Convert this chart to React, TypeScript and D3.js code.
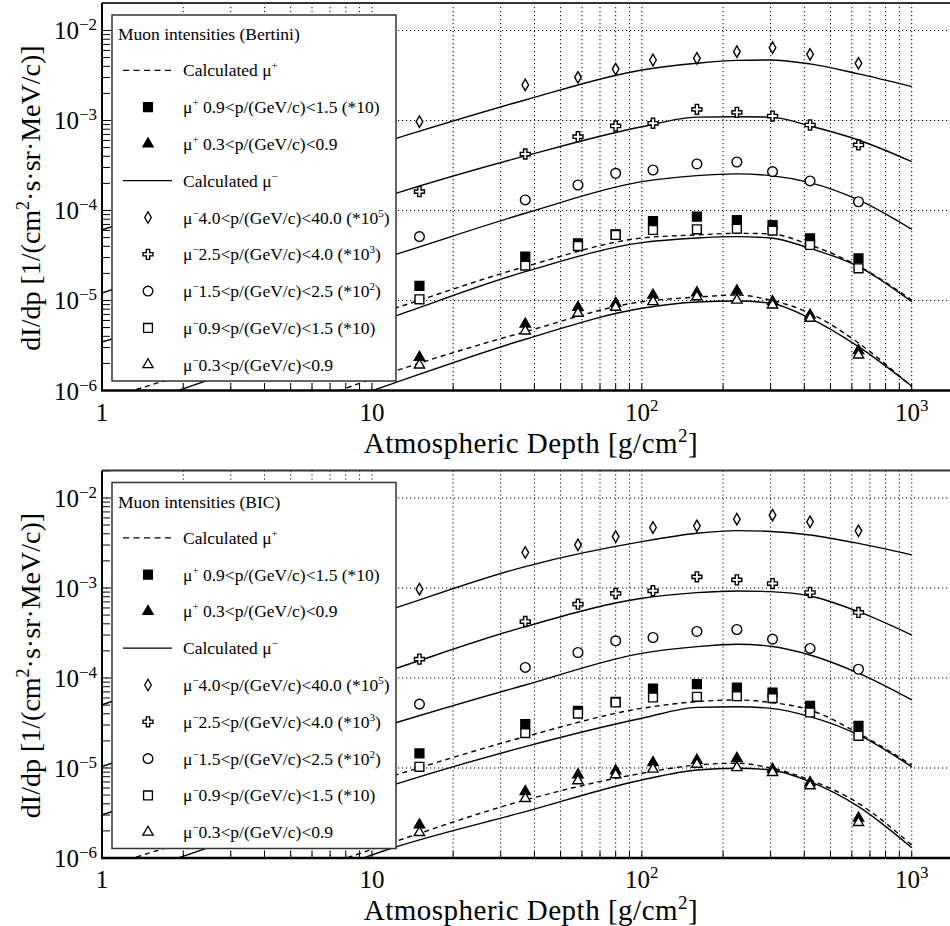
import React from 'react';
import * as d3 from 'd3';

// ---------- measured data (same in both panels) ----------
const DEPTHS = [15, 37, 58, 80, 110, 160, 225, 305, 420, 635];
const MUM_4_40 = [9.7e-4, 2.48e-3, 3.02e-3, 3.73e-3, 4.7e-3, 4.91e-3, 5.81e-3, 6.44e-3, 5.44e-3, 4.32e-3];
const MUM_25_40 = [1.62e-4, 4.24e-4, 6.61e-4, 8.69e-4, 9.31e-4, 1.33e-3, 1.23e-3, 1.12e-3, 8.91e-4, 5.35e-4];
const MUM_15_25 = [5.12e-5, 1.31e-4, 1.92e-4, 2.59e-4, 2.82e-4, 3.29e-4, 3.46e-4, 2.7e-4, 2.13e-4, 1.25e-4];
const MUP_09_15 = [1.45e-5, 3.07e-5, 4.32e-5, 5.44e-5, 7.64e-5, 8.53e-5, 7.84e-5, 6.9e-5, 4.91e-5, 2.94e-5];
const MUM_09_15 = [1.03e-5, 2.44e-5, 4.03e-5, 5.35e-5, 6.07e-5, 6.18e-5, 6.28e-5, 5.97e-5, 4.14e-5, 2.28e-5];
const MUP_03_09 = [2.34e-6, 5.48e-6, 8.4e-6, 9.31e-6, 1.15e-5, 1.22e-5, 1.28e-5, 9.7e-6, 6.9e-6, 2.77e-6];
const MUM_03_09 = [1.92e-6, 4.58e-6, 7.21e-6, 8.4e-6, 9.7e-6, 1.1e-5, 1.01e-5, 8.91e-6, 6.34e-6, 2.48e-6];

// ---------- calculated curves ----------
const CALC_DEPTHS = [1, 3, 12, 37, 100, 160, 225, 300, 420, 635, 1000];
// Bertini
const B_MUM_4_40 = [6.1e-5, 1.7e-4, 6.2e-4, 1.69e-3, 3.64e-3, 4.32e-3, 4.65e-3, 4.7e-3, 4.25e-3, 3.29e-3, 2.38e-3];
const B_MUM_25_40 = [1.21e-5, 3.7e-5, 1.52e-4, 4.04e-4, 8.53e-4, 1.09e-3, 1.1e-3, 1.09e-3, 8.69e-4, 6.07e-4, 3.49e-4];
const B_MUM_15_25 = [3.46e-6, 9.25e-6, 3.19e-5, 9.31e-5, 2.09e-4, 2.44e-4, 2.55e-4, 2.44e-4, 2.04e-4, 1.31e-4, 6.18e-5];
const B_MUM_09_15 = [5.1e-7, 1.59e-6, 6.6e-6, 2.09e-5, 4.39e-5, 4.95e-5, 5.12e-5, 4.95e-5, 3.8e-5, 2.38e-5, 9.7e-6];
const B_MUP_09_15 = [7.8e-7, 2.18e-6, 8.1e-6, 2.38e-5, 4.95e-5, 5.35e-5, 5.58e-5, 5.5e-5, 4.14e-5, 2.42e-5, 1.01e-5];
const B_MUM_03_09 = [8e-8, 2.7e-7, 1.2e-6, 3.71e-6, 8.19e-6, 9.62e-6, 9.87e-6, 9.31e-6, 6.34e-6, 3.07e-6, 1.12e-6];
const B_MUP_03_09 = [1.05e-7, 3.5e-7, 1.62e-6, 4.5e-6, 9.7e-6, 1.09e-5, 1.15e-5, 1.01e-5, 7.21e-6, 3.37e-6, 1.1e-6];
// BIC
const C_MUM_4_40 = [5.04e-5, 1.5e-4, 5.9e-4, 1.73e-3, 3.27e-3, 4.05e-3, 4.34e-3, 4.25e-3, 3.88e-3, 3.13e-3, 2.33e-3];
const C_MUM_25_40 = [1.04e-5, 3.12e-5, 1.25e-4, 3.72e-4, 7.68e-4, 8.87e-4, 9.27e-4, 9.1e-4, 8.15e-4, 5.45e-4, 3.0e-4];
const C_MUM_15_25 = [3.02e-6, 8.5e-6, 3.12e-5, 8.36e-5, 1.88e-4, 2.23e-4, 2.37e-4, 2.25e-4, 1.8e-4, 1.13e-4, 5.7e-5];
const C_MUM_09_15 = [5.1e-7, 1.59e-6, 6.5e-6, 1.73e-5, 3.57e-5, 4.72e-5, 4.8e-5, 4.6e-5, 3.72e-5, 2.33e-5, 1.03e-5];
const C_MUP_09_15 = [7.8e-7, 2.18e-6, 8.2e-6, 2.23e-5, 4.6e-5, 5.46e-5, 5.7e-5, 5.35e-5, 4.41e-5, 2.43e-5, 1.08e-5];
const C_MUM_03_09 = [8e-8, 2.7e-7, 1.3e-6, 3.27e-6, 7.36e-6, 9.5e-6, 9.93e-6, 9.5e-6, 7.05e-6, 3.72e-6, 1.3e-6];
const C_MUP_03_09 = [1.05e-7, 3.5e-7, 1.5e-6, 4.41e-6, 8.73e-6, 1.08e-5, 1.13e-5, 1.0e-5, 7.36e-6, 4.05e-6, 1.39e-6];

// ---------- ticks / labels ----------
const Y_DECADES = [-6, -5, -4, -3, -2];
const X_LABELS = [
  { v: 1, base: '1', exp: '' },
  { v: 10, base: '10', exp: '' },
  { v: 100, base: '10', exp: '2' },
  { v: 1000, base: '10', exp: '3' },
];
const PANEL_TITLES = ['Muon intensities (Bertini)', 'Muon intensities (BIC)'];

type Seg = { t: string; sup?: boolean };
const LEGEND_LABELS: Seg[][] = [
  [{ t: 'Calculated μ' }, { t: '+', sup: true }],
  [{ t: 'μ' }, { t: '+', sup: true }, { t: ' 0.9<p/(GeV/c)<1.5 (*10)' }],
  [{ t: 'μ' }, { t: '+', sup: true }, { t: ' 0.3<p/(GeV/c)<0.9' }],
  [{ t: 'Calculated μ' }, { t: '−', sup: true }],
  [{ t: 'μ' }, { t: '−', sup: true }, { t: '4.0<p/(GeV/c)<40.0 (*10' }, { t: '5', sup: true }, { t: ')' }],
  [{ t: 'μ' }, { t: '−', sup: true }, { t: '2.5<p/(GeV/c)<4.0 (*10' }, { t: '3', sup: true }, { t: ')' }],
  [{ t: 'μ' }, { t: '−', sup: true }, { t: '1.5<p/(GeV/c)<2.5 (*10' }, { t: '2', sup: true }, { t: ')' }],
  [{ t: 'μ' }, { t: '−', sup: true }, { t: '0.9<p/(GeV/c)<1.5 (*10)' }],
  [{ t: 'μ' }, { t: '−', sup: true }, { t: '0.3<p/(GeV/c)<0.9' }],
];

const FONT = "'Liberation Serif', 'DejaVu Serif', 'Times New Roman', serif";

type Marker = { type: string; filled: boolean };
const M_SQ_F: Marker = { type: 'square', filled: true };
const M_TRI_F: Marker = { type: 'triangle', filled: true };
const M_DIA: Marker = { type: 'diamond', filled: false };
const M_CROSS: Marker = { type: 'cross', filled: false };
const M_CIRC: Marker = { type: 'circle', filled: false };
const M_SQ_O: Marker = { type: 'square', filled: false };
const M_TRI_O: Marker = { type: 'triangle', filled: false };

const symbolPath = (m: Marker) => {
  const map: Record<string, [any, number]> = {
    square: [d3.symbolSquare, 78],
    triangle: [d3.symbolTriangle, 46],
    diamond: [d3.symbolDiamond, 38],
    cross: [d3.symbolCross, 55],
    circle: [d3.symbolCircle, 74],
  };
  const [t, s] = map[m.type];
  return d3.symbol().type(t).size(s)() as string;
};

const Rich = ({ segs, x, y, size, supSize, rise, anchor, transform, spacing }: any) => {
  let raised = false;
  return (
    <text
      x={x}
      y={y}
      fontSize={size}
      textAnchor={anchor}
      transform={transform}
      fontFamily={FONT}
      fill="#000"
      letterSpacing={spacing}
      style={{ whiteSpace: 'pre' }}
    >
      {segs.map((s: Seg, i: number) => {
        let dy = 0;
        if (s.sup && !raised) { dy = -rise; raised = true; }
        else if (!s.sup && raised) { dy = rise; raised = false; }
        return (
          <tspan key={i} dy={dy || undefined} fontSize={s.sup ? supSize : undefined}>{s.t}</tspan>
        );
      })}
    </text>
  );
};

type Curve = { values: number[]; dashed: boolean };

function Panel({ dy, title, curves, id }: { dy: number; title: string; curves: Curve[]; id: string }) {
  const x = d3.scaleLog().domain([1, 1410]).range([102, 952]);
  const y = d3.scaleLog().domain([1e-6, 0.0202]).range([390.5, 3]);
  const [x0, x1] = x.range();
  const [yb, yt] = y.range();
  const line = d3
    .line<number>()
    .x((_, i) => x(CALC_DEPTHS[i]))
    .y((d) => y(d))
    .curve(d3.curveMonotoneX);

  const gridX: number[] = [];
  const tickX: number[] = [];
  for (let k = 0; k <= 3; k++) {
    for (let m = 1; m <= 9; m++) {
      const v = m * Math.pow(10, k);
      if (v > 1000) break;
      tickX.push(v);
      if (v > 1) gridX.push(v);
    }
  }
  const tickY: number[] = [];
  for (let k = -6; k <= -2; k++) {
    for (let m = 1; m <= 9; m++) {
      const v = m * Math.pow(10, k);
      if (v <= 0.0202) tickY.push(v);
    }
  }

  const points: { vals: number[]; m: Marker }[] = [
    { vals: MUP_09_15, m: M_SQ_F },
    { vals: MUP_03_09, m: M_TRI_F },
    { vals: MUM_4_40, m: M_DIA },
    { vals: MUM_25_40, m: M_CROSS },
    { vals: MUM_15_25, m: M_CIRC },
    { vals: MUM_09_15, m: M_SQ_O },
    { vals: MUM_03_09, m: M_TRI_O },
  ];

  const legendItems: ({ kind: 'line'; dashed: boolean } | { kind: 'marker'; m: Marker })[] = [
    { kind: 'line', dashed: true },
    { kind: 'marker', m: M_SQ_F },
    { kind: 'marker', m: M_TRI_F },
    { kind: 'line', dashed: false },
    { kind: 'marker', m: M_DIA },
    { kind: 'marker', m: M_CROSS },
    { kind: 'marker', m: M_CIRC },
    { kind: 'marker', m: M_SQ_O },
    { kind: 'marker', m: M_TRI_O },
  ];
  const LX = 112, LY = 15, LW = 284, LH = 366;
  const rowY = (i: number) => 33.5 + 36.8 * i;

  return (
    <g transform={`translate(0,${dy})`}>
      <defs>
        <clipPath id={id}>
          <rect x={x0} y={yt} width={x1 - x0} height={yb - yt} />
        </clipPath>
      </defs>
      {/* grid */}
      <g stroke="#000" strokeWidth={1} strokeDasharray="1.2,2.8">
        {gridX.map((v) => (
          <line key={'gx' + v} x1={x(v)} x2={x(v)} y1={yt} y2={yb} />
        ))}
        {[1e-5, 1e-4, 1e-3, 1e-2].map((v) => (
          <line key={'gy' + v} x1={x0} x2={x1} y1={y(v)} y2={y(v)} />
        ))}
      </g>
      {/* curves */}
      <g clipPath={`url(#${id})`} fill="none" stroke="#000" strokeWidth={1.4}>
        {curves.map((c, i) => (
          <path key={i} d={line(c.values) as string} strokeDasharray={c.dashed ? '5,4' : undefined} />
        ))}
      </g>
      {/* points */}
      <g>
        {points.map((s, si) =>
          s.vals.map((v, i) => (
            <path
              key={si + '-' + i}
              d={symbolPath(s.m)}
              transform={`translate(${x(DEPTHS[i])},${y(v)})`}
              fill={s.m.filled ? '#000' : '#fff'}
              stroke="#000"
              strokeWidth={1.4}
            />
          ))
        )}
      </g>
      {/* legend */}
      <g>
        <rect x={LX} y={LY} width={LW} height={LH} fill="#fff" stroke="#333" strokeWidth={1.5} />
        <text x={118} y={rowY(0) + 6.5} fontSize={17.5} fontFamily={FONT}>{title}</text>
        {legendItems.map((it, i) => {
          const cy = rowY(i + 1);
          return (
            <g key={i}>
              {it.kind === 'line' ? (
                <line x1={123} x2={172} y1={cy} y2={cy} stroke="#000" strokeWidth={1.3} strokeDasharray={it.dashed ? '6,4.5' : undefined} />
              ) : (
                <path d={symbolPath(it.m)} transform={`translate(148,${cy})`} fill={it.m.filled ? '#000' : '#fff'} stroke="#000" strokeWidth={1.3} />
              )}
              <Rich segs={LEGEND_LABELS[i]} x={183} y={cy + 6} size={17.5} supSize={11} rise={7} />
            </g>
          );
        })}
      </g>
      {/* ticks */}
      <g stroke="#000" strokeWidth={1}>
        {tickY.map((v) => (
          <line key={'ty' + v} x1={x0} x2={x0 + 8} y1={y(v)} y2={y(v)} />
        ))}
        {tickX.map((v) => (
          <line key={'tx' + v} x1={x(v)} x2={x(v)} y1={yb} y2={yb - 7} />
        ))}
      </g>
      {/* frame */}
      <line x1={x0} x2={x1} y1={yt} y2={yt} stroke="#333" strokeWidth={2} />
      <line x1={x0} x2={x0} y1={yt} y2={yb} stroke="#000" strokeWidth={2} />
      <line x1={x0 - 1} x2={x1} y1={yb} y2={yb} stroke="#000" strokeWidth={2.5} />
      {/* y tick labels */}
      {Y_DECADES.map((k) => (
        <Rich
          key={'yl' + k}
          segs={[{ t: '10' }, { t: '−' + Math.abs(k), sup: true }]}
          x={97}
          y={y(Math.pow(10, k)) + 9}
          size={25}
          supSize={17}
          rise={9}
          anchor="end"
        />
      ))}
      {/* x tick labels */}
      {X_LABELS.map((l) => (
        <Rich
          key={'xl' + l.v}
          segs={l.exp ? [{ t: l.base }, { t: l.exp, sup: true }] : [{ t: l.base }]}
          x={x(l.v)}
          y={420.5}
          size={25}
          supSize={17}
          rise={10}
          anchor="middle"
        />
      ))}
      {/* axis titles */}
      <Rich
        segs={[{ t: 'Atmospheric Depth [g/cm' }, { t: '2', sup: true }, { t: ']' }]}
        x={531}
        y={452.5}
        size={29}
        supSize={19}
        rise={11}
        anchor="middle"
        spacing={0.5}
      />
      <Rich
        segs={[{ t: 'dI/dp [1/(cm' }, { t: '2', sup: true }, { t: '·s·sr·MeV/c)]' }]}
        x={0}
        y={0}
        transform="translate(40,198) rotate(-90)"
        size={28}
        supSize={18}
        rise={11}
        anchor="middle"
      />
    </g>
  );
}

export default function App() {
  const bertini: Curve[] = [
    { values: B_MUM_4_40, dashed: false },
    { values: B_MUM_25_40, dashed: false },
    { values: B_MUM_15_25, dashed: false },
    { values: B_MUM_09_15, dashed: false },
    { values: B_MUP_09_15, dashed: true },
    { values: B_MUM_03_09, dashed: false },
    { values: B_MUP_03_09, dashed: true },
  ];
  const bic: Curve[] = [
    { values: C_MUM_4_40, dashed: false },
    { values: C_MUM_25_40, dashed: false },
    { values: C_MUM_15_25, dashed: false },
    { values: C_MUM_09_15, dashed: false },
    { values: C_MUP_09_15, dashed: true },
    { values: C_MUM_03_09, dashed: false },
    { values: C_MUP_03_09, dashed: true },
  ];
  return (
    <svg
      width={950}
      height={926}
      style={{ position: 'absolute', left: 0, top: 0, background: '#fff' }}
      fontFamily={FONT}
    >
      <rect width={950} height={926} fill="#fff" />
      <Panel dy={0} title={PANEL_TITLES[0]} curves={bertini} id="clipTop" />
      <Panel dy={467.5} title={PANEL_TITLES[1]} curves={bic} id="clipBottom" />
    </svg>
  );
}
